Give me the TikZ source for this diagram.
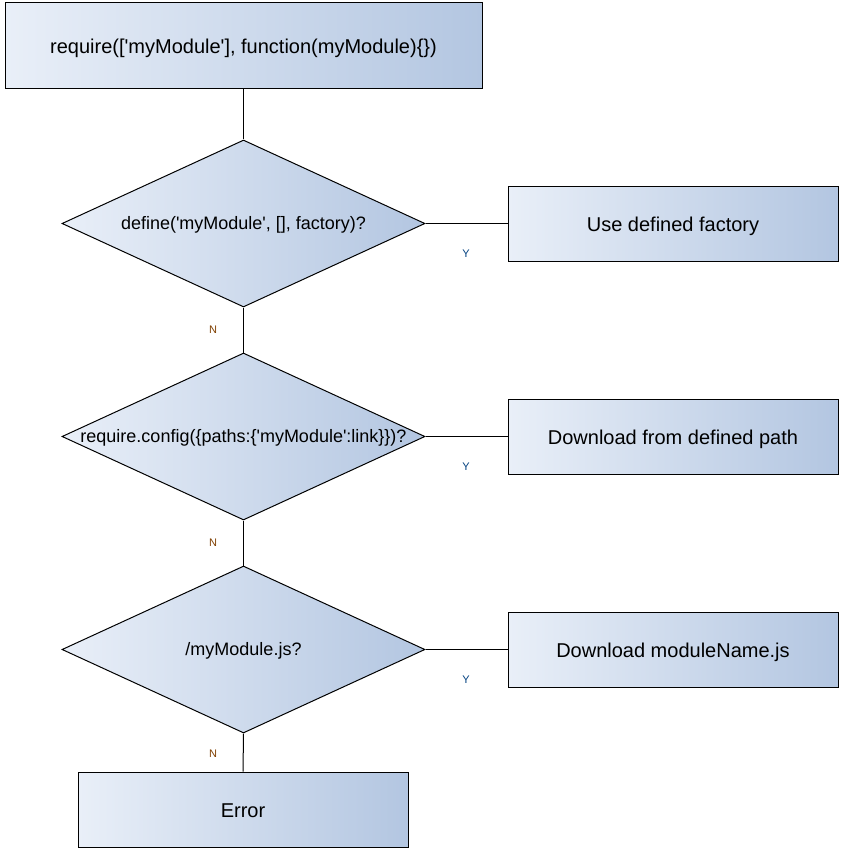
\documentclass[tikz,border=0pt]{standalone}
\usepackage{fontspec}
\setmainfont{Liberation Sans}
\usetikzlibrary{shapes.geometric}

\definecolor{shadeleft}{HTML}{E9EFF8}
\definecolor{shaderight}{HTML}{B3C6E1}
\definecolor{nocolor}{HTML}{7F3F00}
\definecolor{yescolor}{HTML}{003F7F}

\newcommand{\sq}{\textquotesingle}

\tikzset{
	stepbox/.style={rectangle, draw=black, line width=1pt, left color=shadeleft, right color=shaderight, inner sep=0pt, text height=17.5pt, text depth=2.5pt, font=\fontsize{20}{24}\selectfont},
	question/.style={diamond, draw=black, line width=1pt, left color=shadeleft, right color=shaderight, inner sep=0pt, aspect=2.17, minimum width=363pt, minimum height=167pt},
	asktext/.style={font=\fontsize{18}{21}\selectfont, yshift=-1.5pt},
	nolabel/.style={text=nocolor, font=\fontsize{11}{13}\selectfont},
	yeslabel/.style={text=yescolor, font=\fontsize{11}{13}\selectfont},
	link/.style={draw=black, line width=1pt}
}

\begin{document}
\begin{tikzpicture}[x=1pt, y=-1pt]
	\useasboundingbox (0,0) rectangle (851,853);

	\draw (243.5,46) node[stepbox, minimum width=477pt, minimum height=86pt] (req) {require([\sq myModule\sq], function(myModule)\{\})} ;

	\draw (243.5,223.5) node[question] (ask1) {} ;
	\draw (243.5,436.5) node[question] (ask2) {} ;
	\draw (243.5,649.5) node[question] (ask3) {} ;
	\draw (ask1.center) node[asktext] (asktext1) {define(\sq myModule\sq, [], factory)?} ;
	\draw (ask2.center) node[asktext] (asktext2) {require.config(\{paths:\{\sq myModule\sq:link\}\})?} ;
	\draw (ask3.center) node[asktext] (asktext3) {/myModule.js?} ;

	\draw (673,223.5) node[stepbox, minimum width=330pt, minimum height=75pt] (factory) {Use defined factory} ;
	\draw (673,436.5) node[stepbox, minimum width=330pt, minimum height=75pt] (path) {Download from defined path} ;
	\draw (673,649.5) node[stepbox, minimum width=330pt, minimum height=75pt] (file) {Download moduleName.js} ;
	\draw (243,809.5) node[stepbox, minimum width=330pt, minimum height=75pt] (err) {Error} ;

	\draw [link] (req.south) -- (ask1.north);
	\draw [link] (ask1.south) -- (ask2.north);
	\draw [link] (ask2.south) -- (ask3.north);
	\draw [link] (ask3.south) -- (err.north);
	\draw [link] (ask1.east) -- (factory.west);
	\draw [link] (ask2.east) -- (path.west);
	\draw [link] (ask3.east) -- (file.west);

	\draw (213,330) node[nolabel] (no1) {N} ;
	\draw (213,543) node[nolabel] (no2) {N} ;
	\draw (213,754) node[nolabel] (no3) {N} ;
	\draw (466,254) node[yeslabel] (yes1) {Y} ;
	\draw (466,467) node[yeslabel] (yes2) {Y} ;
	\draw (466,680) node[yeslabel] (yes3) {Y} ;
\end{tikzpicture}
\end{document}
